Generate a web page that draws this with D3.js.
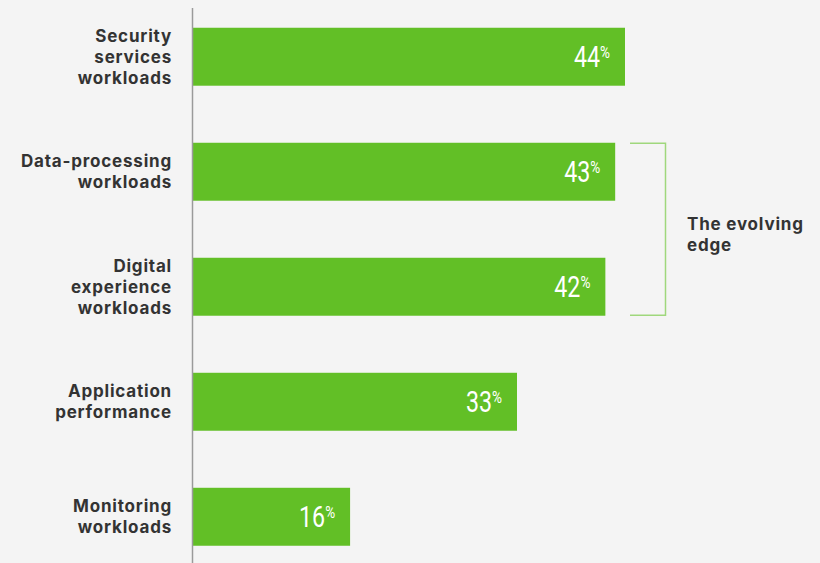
<!DOCTYPE html>
<html>
<head>
<meta charset="utf-8">
<script src="https://cdn.jsdelivr.net/npm/d3@7"></script>
<style>
  body { margin: 0; background: #f4f4f4; }
  svg { display: block; }
</style>
</head>
<body>
<script>
// data
let categories = [
  ["Security", "services", "workloads"],
  ["Data-processing", "workloads"],
  ["Digital", "experience", "workloads"],
  ["Application", "performance"],
  ["Monitoring", "workloads"]
];
let values = [44, 43, 42, 33, 16];
let bracketItems = [1, 2];
let bracketLabel = ["The evolving", "edge"];

let width = 820;
let height = 563;
let axisX = 193;

let svg = d3.select("body").append("svg")
  .attr("width", width)
  .attr("height", height);

svg.append("rect")
  .attr("width", width)
  .attr("height", height)
  .attr("fill", "#f4f4f4");

let x = d3.scaleLinear()
  .domain([0, 44])
  .range([axisX, 625]);

let y = d3.scaleBand()
  .domain(d3.range(values.length))
  .range([-1, 574.5])
  .paddingInner(0.496)
  .paddingOuter(0.25);

// bars
svg.selectAll("rect.bar")
  .data(values)
  .join("rect")
  .attr("class", "bar")
  .attr("x", x(0))
  .attr("y", (d, i) => y(i))
  .attr("width", d => x(d) - x(0))
  .attr("height", y.bandwidth())
  .attr("fill", "#62bf26");

// axis line
svg.append("line")
  .attr("x1", axisX - 0.5)
  .attr("x2", axisX - 0.5)
  .attr("y1", 8)
  .attr("y2", height)
  .attr("stroke", "#9a9a9a")
  .attr("stroke-width", 1.5);

// category labels
let lineH = 21;
let labelFont = "Inter, 'Noto Sans', sans-serif";
let labels = svg.selectAll("text.cat")
  .data(categories)
  .join("text")
  .attr("class", "cat")
  .attr("text-anchor", "end")
  .attr("font-family", labelFont)
  .attr("font-weight", 700)
  .attr("font-size", 17)
  .attr("letter-spacing", 0.8)
  .attr("fill", "#333333");

labels.each(function (lines, i) {
  let cy = y(i) + y.bandwidth() / 2;
  let top = cy - (lines.length - 1) * lineH / 2;
  d3.select(this).selectAll("tspan")
    .data(lines)
    .join("tspan")
    .attr("x", 172)
    .attr("y", (d, j) => top + j * lineH + 6)
    .text(d => d);
});

// value labels, squeezed horizontally to look condensed
let sx = 0.8;
let vals = svg.selectAll("text.val")
  .data(values)
  .join("text")
  .attr("class", "val")
  .attr("transform", (d, i) => `translate(${x(d) - 15},${y(i) + y.bandwidth() / 2 + 10}) scale(${sx},1)`)
  .attr("text-anchor", "end")
  .attr("font-family", "Roboto, sans-serif")
  .attr("font-weight", 400)
  .attr("fill", "#ffffff");

vals.append("tspan")
  .attr("font-size", 29)
  .text(d => d);
vals.append("tspan")
  .attr("font-size", 17)
  .attr("dy", -9)
  .text("%");

// bracket
let b0 = y(bracketItems[0]);
let b1 = y(bracketItems[1]) + y.bandwidth();
svg.append("path")
  .attr("d", `M630,${b0 + 0.5}H665.5V${b1 - 0.5}H630`)
  .attr("fill", "none")
  .attr("stroke", "#9fd77c")
  .attr("stroke-width", 1.5);

svg.append("text")
  .attr("font-family", labelFont)
  .attr("font-weight", 700)
  .attr("font-size", 17)
  .attr("letter-spacing", 0.8)
  .attr("fill", "#333333")
  .selectAll("tspan")
  .data(bracketLabel)
  .join("tspan")
  .attr("x", 687)
  .attr("y", (d, i) => (b0 + b1) / 2 - lineH / 2 + i * lineH + 11)
  .text(d => d);
</script>
</body>
</html>
